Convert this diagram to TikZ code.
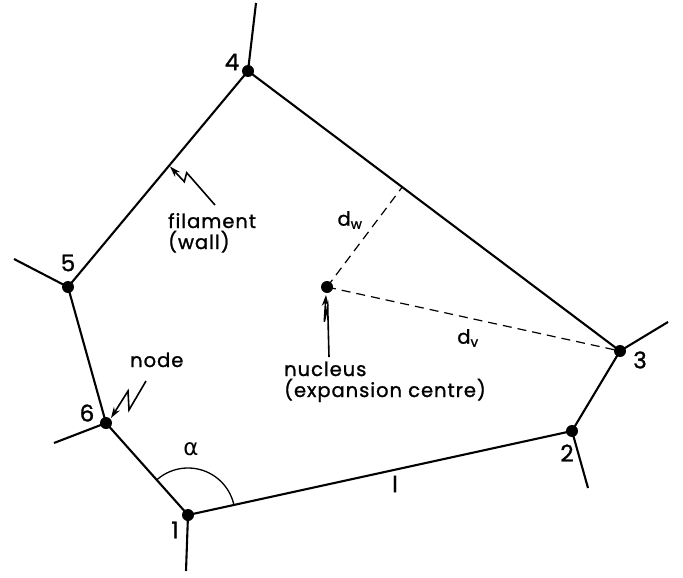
\documentclass[tikz,border=0pt]{standalone}
\usepackage{fontspec}
\setmainfont{Poppins}[LetterSpace=5,FakeBold=1.2]
\newfontfamily\dejavu{DejaVu Sans}
\usetikzlibrary{calc,arrows.meta}
\begin{document}
\begin{tikzpicture}[x=1pt,y=-1pt,
  wall/.style={line width=2.1pt},
  dot/.style={circle,fill=black,inner sep=0pt,minimum size=12pt},
  dist/.style={line width=1.2pt,dash pattern=on 9pt off 6pt},
  lbl/.style={font=\fontsize{19.5}{21}\selectfont,inner sep=0pt},
  num/.style={font=\fontsize{23}{25}\selectfont,inner sep=0pt},
  pointer/.style={line width=1.6pt,line join=miter,-{Stealth[length=11pt,width=7pt]}}]
\useasboundingbox (0,0) rectangle (683,578);
% cell nodes
\node[dot] (n1) at (188,515) {};
\node[dot] (n2) at (572,431) {};
\node[dot] (n3) at (620,351) {};
\node[dot] (n4) at (248,71) {};
\node[dot] (n5) at (68,287) {};
\node[dot] (n6) at (106,423) {};
\node[dot] (nuc) at (327,287) {};
% spoke ends
\coordinate (s1) at (186,571);
\coordinate (s2) at (588,488);
\coordinate (s3) at (668,322);
\coordinate (s4) at (256,3);
\coordinate (s5) at (14,259);
\coordinate (s6) at (54,443);
% walls
\draw[wall] (n1.center) -- (n2.center) -- (n3.center) -- (n4.center) -- (n5.center) -- (n6.center) -- (n1.center);
\foreach \i in {1,...,6} \draw[wall] (n\i.center) -- (s\i);
% distances
\coordinate (foot) at ($(n4.center)!(nuc.center)!(n3.center)$);
\draw[dist] (nuc.center) -- (foot);
\draw[dist] (nuc.center) -- (n3.center);
% angle
\draw[line width=1.3pt] plot[domain=12.3:131.7,samples=40,smooth] ({188+47*cos(\x)},{515-47*sin(\x)});
% pointers
\coordinate (ft) at (215,205); \coordinate (fp) at (186.7,172.7); \coordinate (fq) at (184.3,181.7); \coordinate (fe) at (170,166.5);
\draw[pointer] (ft) -- (fp) -- (fq) -- (fe);
\coordinate (nt) at (146,381); \coordinate (np) at (129,410); \coordinate (nq) at (128,391); \coordinate (ne) at (111,418);
\draw[pointer] (nt) -- (np) -- (nq) -- (ne);
\coordinate (ct) at (329,357); \coordinate (cp) at (327.7,306.7); \coordinate (cq) at (324.3,321.7); \coordinate (ce) at (326,295);
\draw[pointer] (ct) -- (cp) -- (cq) -- (ce);
% labels
\node[num] (l1) at (175,530) {1};
\node[num] (l2) at (567,453) {2};
\node[num] (l3) at (640,360) {3};
\node[num] (l4) at (232,62) {4};
\node[num] (l5) at (68,263) {5};
\node[num] (l6) at (87,413) {6};
\node[lbl,anchor=base west] (fil1) at (168,228) {filament};
\node[lbl,anchor=base west] (fil2) at (168,249) {(wall)};
\node[lbl,anchor=base west] (nod) at (130,367) {node};
\node[lbl,anchor=base west] (nuc1) at (284,376) {nucleus};
\node[lbl,anchor=base west] (nuc2) at (284,397) {(expansion centre)};
\node[lbl] (dw) at (350,220) {d\textsubscript{w}};
\node[lbl] (dv) at (468,338) {d\textsubscript{v}};
\node[lbl,font=\fontsize{22}{24}\selectfont] (ell) at (395,484) {l};
\node[lbl,font=\dejavu\fontsize{23}{25}\selectfont] (alp) at (191,449) {α};
\end{tikzpicture}
\end{document}
